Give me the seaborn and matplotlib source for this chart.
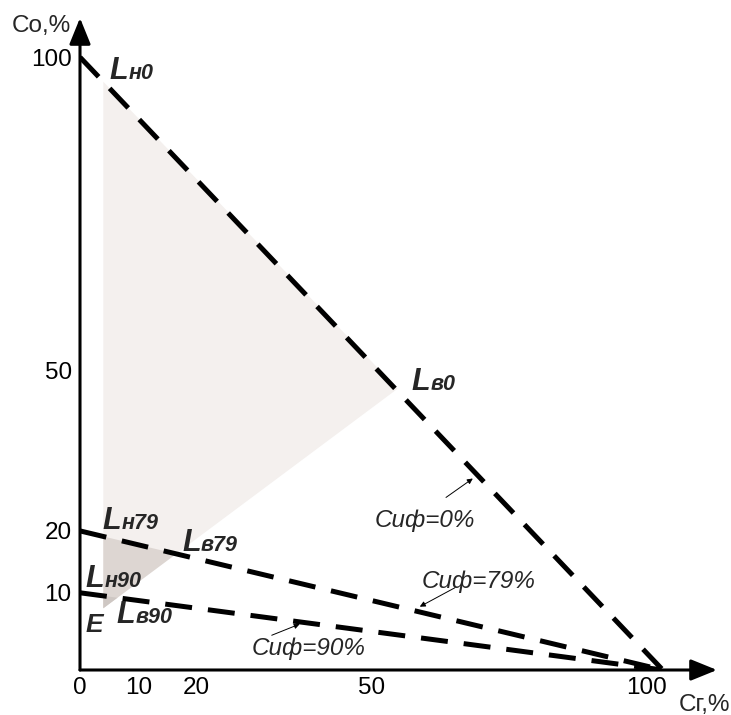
import numpy as np
import pandas as pd
import matplotlib
matplotlib.use("Agg")
import matplotlib.pyplot as plt
import seaborn as sns
from matplotlib.patches import Polygon, ArrowStyle
from matplotlib.transforms import ScaledTranslation

# ---------------- data ----------------
cr_ends = [0, 100]                      # Cr,% at start / end of each boundary line
co_intercepts = [100, 20, 10]           # Co,% at Cr=0 for Сиф = 0, 79, 90 %
line_names = ["Сиф=0%", "Сиф=79%", "Сиф=90%"]
region_cr = [4, 54.5, 4]                # shaded working region (Lн0, Lв0, E)
region_co = [96, 45.5, 8]
x_ticks = [0, 10, 20, 50, 100]
y_ticks = [10, 20, 50, 100]

sns.set_style("white")
plt.rcParams["font.family"] = ["Liberation Sans", "DejaVu Sans"]

fig = plt.figure(figsize=(7.31, 7.15), dpi=100)
ax = fig.add_axes([80 / 731, 45 / 715, 637 / 731, 652 / 715])

# hand-drawn, slightly non-linear ordinate of the original drawing
yd = [0, 10, 20, 50, 100, 300]
yv = [0, 12.6, 22.7, 50, 100, 300]
ax.set_yscale("function", functions=(lambda v: np.interp(v, yd, yv),
                                      lambda v: np.interp(v, yv, yd)))
ax.set_xlim(0, 109.3)
ax.set_ylim(0, 106.4)

# shaded regions
pts = np.column_stack([region_cr, region_co])
ax.add_patch(Polygon(pts, closed=True, facecolor="#F4F0EE", edgecolor="none", zorder=1))
for c0, col in zip(co_intercepts[1:], ["#DDD6D2", "#CEC7C3"]):
    clip = Polygon([(0, 0), (0, c0), (100, 0)], closed=True, transform=ax.transData)
    p = Polygon(pts, closed=True, facecolor=col, edgecolor="none", zorder=1.5)
    ax.add_patch(p)
    p.set_clip_path(clip)

# dashed boundary lines
df = pd.DataFrame({
    "Cr": cr_ends * len(co_intercepts),
    "Co": [v for c in co_intercepts for v in (c, 0)],
    "line": np.repeat(line_names, 2),
})
for name, sub in df.groupby("line", sort=False):
    sns.lineplot(data=sub, x="Cr", y="Co", ax=ax, color="black", linewidth=3.6,
                 linestyle=(0, (5.4, 3.2)), estimator=None, sort=False,
                 legend=False, zorder=3)

# axes with arrows
for s in ax.spines.values():
    s.set_visible(False)
astyle = ArrowStyle("-|>", head_length=16, head_width=6.5)
for tip in [(0, 1), (1, 0)]:
    ax.annotate("", xy=tip, xytext=(0, 0), xycoords="axes fraction",
                arrowprops=dict(arrowstyle=astyle, lw=2.2, color="black",
                                shrinkA=0, shrinkB=0, mutation_scale=1),
                annotation_clip=False, zorder=4)

ax.set_xticks(x_ticks)
ax.set_xticklabels([str(t) for t in x_ticks])
ax.set_yticks(y_ticks)
ax.set_yticklabels([str(t) for t in y_ticks])
ax.tick_params(length=0, labelsize=17.5, colors="black")
ax.tick_params(axis="x", pad=5)
ax.tick_params(axis="y", pad=6)
ax.set_xlabel("")
ax.set_ylabel("")
for lab in ax.get_xticklabels():
    if lab.get_text() == "100":
        lab.set_transform(lab.get_transform() + ScaledTranslation(-0.16, 0, fig.dpi_scale_trans))
for lab in ax.get_yticklabels():
    if lab.get_text() == "50":
        lab.set_transform(lab.get_transform() + ScaledTranslation(0, -0.07, fig.dpi_scale_trans))

fig.text(12 / 731, 1 - 32 / 715, "Co,%", fontsize=17.5, ha="left", va="baseline")
fig.text(679 / 731, 1 - 711 / 715, "Сг,%", fontsize=17.5, ha="left", va="baseline")


def lname(x, y, main, sub, big=22, small=15.5):
    t = ax.text(x, y, main, fontsize=big, fontweight="bold", fontstyle="italic",
                ha="left", va="baseline", zorder=5)
    if sub:
        ax.annotate(sub, xy=(1, 0), xycoords=t, xytext=(0.3, 1.4),
                    textcoords="offset points", fontsize=small, fontweight="bold",
                    fontstyle="italic", ha="left", va="bottom", zorder=5)


lname(5.1, 96.4, "L", "н0")
lname(56.9, 45.3, "L", "в0")
lname(3.8, 20.3, "L", "н79")
lname(17.5, 16.7, "L", "в79")
lname(1.0, 10.9, "L", "н90")
lname(6.3, 6.1, "L", "в90")
lname(1.0, 4.9, "E", "", big=19)

# Сиф annotations
notes = [((50.6, 20.7), (62.8, 26.0), (67.4, 29.4)),
         ((58.7, 10.8), (64.3, 10.8), (58.3, 8.2)),
         ((29.5, 1.94), (32.9, 4.5), (37.7, 5.95))]
for name, (txt, tail, tip) in zip(line_names, notes):
    ax.text(txt[0], txt[1], name, fontsize=17.5, fontstyle="italic",
            ha="left", va="baseline", zorder=5)
    ax.annotate("", xy=tip, xytext=tail,
                arrowprops=dict(arrowstyle="-|>", lw=0.7, color="black",
                                shrinkA=0, shrinkB=0, mutation_scale=8), zorder=5)

fig.savefig("out.png", dpi=100, facecolor="white")
